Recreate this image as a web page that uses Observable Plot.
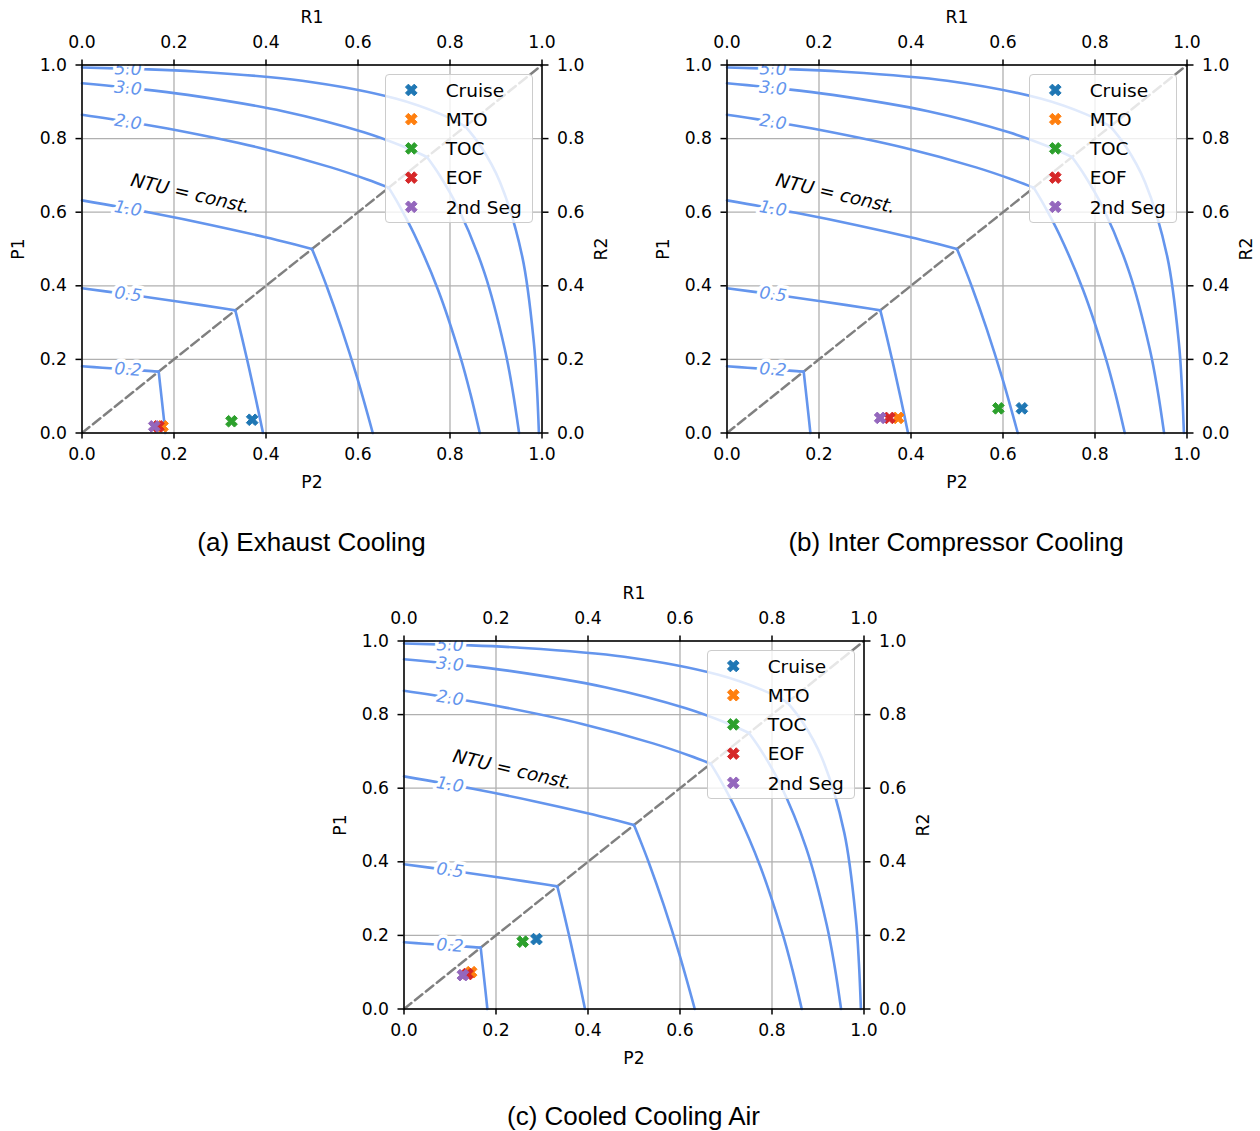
<!DOCTYPE html>
<html>
<head>
<meta charset="utf-8">
<script src="https://cdn.jsdelivr.net/npm/d3@7"></script>
<script src="https://cdn.jsdelivr.net/npm/@observablehq/plot@0.6"></script>
<style>
html, body { margin: 0; padding: 0; background: #ffffff; }
#root { position: relative; width: 1260px; height: 1131px; overflow: hidden; }
.panel { position: absolute; }
.legend { position: absolute; background: rgba(255,255,255,0.8); border: 1px solid #cccccc; border-radius: 4px; box-sizing: border-box; }
</style>
</head>
<body>
<div id="root"></div>
<script>
// ---------------- data ----------------
const seriesNames  = ["Cruise", "MTO", "TOC", "EOF", "2nd Seg"];
const seriesColors = ["#1f77b4", "#ff7f0e", "#2ca02c", "#d62728", "#9467bd"];
const panelCaptions = ["(a) Exhaust Cooling", "(b) Inter Compressor Cooling", "(c) Cooled Cooling Air"];

// operating points (P2, P1) per series, order = seriesNames
const exhaustP2 = [0.370, 0.175, 0.325, 0.166, 0.157];
const exhaustP1 = [0.036, 0.018, 0.032, 0.018, 0.018];
const interP2   = [0.641, 0.372, 0.590, 0.353, 0.333];
const interP1   = [0.067, 0.041, 0.067, 0.041, 0.041];
const cooledP2  = [0.288, 0.146, 0.258, 0.138, 0.128];
const cooledP1  = [0.190, 0.100, 0.183, 0.095, 0.092];

// NTU = const. lines, half from the P1 axis to the diagonal (other half is its mirror)
const ntuLabels = ["0.2", "0.5", "1.0", "2.0", "3.0", "5.0"];
const ntu02P2 = [0, 0.0444, 0.0869, 0.1276, 0.1513, 0.1667];
const ntu02P1 = [0.1813, 0.1775, 0.1738, 0.1702, 0.1681, 0.1667];
const ntu05P2 = [0, 0.0944, 0.1811, 0.2606, 0.3051, 0.3333];
const ntu05P1 = [0.3935, 0.3776, 0.3623, 0.3475, 0.3389, 0.3333];
const ntu10P2 = [0, 0.1496, 0.2824, 0.3989, 0.4613, 0.5000];
const ntu10P1 = [0.6321, 0.5983, 0.5647, 0.5319, 0.5126, 0.5000];
const ntu20P2 = [0, 0.1056, 0.2057, 0.3873, 0.5414, 0.6200, 0.6667];
const ntu20P1 = [0.8647, 0.8446, 0.8228, 0.7746, 0.7218, 0.6889, 0.6667];
const ntu30P2 = [0, 0.1170, 0.2297, 0.4372, 0.6128, 0.6999, 0.7500];
const ntu30P1 = [0.9502, 0.9360, 0.9188, 0.8744, 0.8171, 0.7777, 0.7500];
const ntu50P2 = [0, 0.1236, 0.2456, 0.4786, 0.6816, 0.7798, 0.8333];
const ntu50P1 = [0.9933, 0.9890, 0.9823, 0.9572, 0.9088, 0.8664, 0.8333];

// inline label anchor points on each line
const labelP2 = [0.100, 0.100, 0.100, 0.100, 0.100, 0.100];
const labelP1 = [0.1726, 0.3766, 0.6095, 0.8445, 0.9365, 0.9888];

// annotation
const noteText = "NTU = const.";
const noteP2 = 0.236;
const noteP1 = 0.650;

// diagonal
const diagP2 = [0, 1];
const diagP1 = [0, 1];

// axes
const tickValues = [0, 0.2, 0.4, 0.6, 0.8, 1.0];
const axisLabels = {bottom: "P2", top: "R1", left: "P1", right: "R2"};

// ---------------- layout ----------------
const W = 615, H = 500, ML = 81.5, MT = 64.5, PW = 460, PH = 368;
const panelPos = [[0, 0], [644.5, 0], [322, 575.5]];
const captionPos = [[311.5, 551], [956, 551], [633.5, 1125]];
const panelData = [[exhaustP2, exhaustP1], [interP2, interP1], [cooledP2, cooledP1]];

const curveP2 = [ntu02P2, ntu05P2, ntu10P2, ntu20P2, ntu30P2, ntu50P2];
const curveP1 = [ntu02P1, ntu05P1, ntu10P1, ntu20P1, ntu30P1, ntu50P1];

const curveRows = [];
curveP2.forEach((p2, i) => {
  const p1 = curveP1[i];
  p2.forEach((v, j) => curveRows.push({key: i + "a", P2: v, P1: p1[j]}));
  p2.forEach((v, j) => curveRows.push({key: i + "b", P2: p1[j], P1: v}));
});
const labelRows = ntuLabels.map((t, i) => {
  const p2 = curveP2[i], p1 = curveP1[i];
  const rot = Math.atan2((p1[0] - p1[1]) * PH, (p2[1] - p2[0]) * PW) * 180 / Math.PI;
  return {label: t, P2: labelP2[i], P1: labelP1[i], rot};
});
const diagRows = diagP2.map((v, i) => ({P2: v, P1: diagP1[i]}));
const noteRows = [{text: noteText, P2: noteP2, P1: noteP1}];

// filled "X" marker
function xPoints(a) {
  const w = a / 3, c = Math.SQRT1_2;
  return [[-w,-a],[w,-a],[w,-w],[a,-w],[a,w],[w,w],[w,a],[-w,a],[-w,w],[-a,w],[-a,-w],[-w,-w]]
    .map(([x, y]) => [(x - y) * c, (x + y) * c]);
}
const xSymbol = {
  draw(ctx, size) {
    const a = Math.sqrt(size / Math.PI);
    xPoints(a).forEach(([x, y], i) => i ? ctx.lineTo(x, y) : ctx.moveTo(x, y));
    ctx.closePath();
  }
};

const fmt = d3.format(".1f");
const FONT = "DejaVu Sans";
const FS = 17.2;

function makePanel(p2s, p1s) {
  const pts = seriesNames.map((s, i) => ({series: s, P2: p2s[i], P1: p1s[i]}));
  const axisCommon = {tickFormat: fmt, tickSize: 6, tickPadding: 9, label: null, fontSize: FS, strokeWidth: 1.5, stroke: "#000", fill: "#000"};
  const lab = {fontSize: FS, fill: "#000", textAnchor: "middle", lineAnchor: "middle"};
  return Plot.plot({
    width: W, height: H,
    marginLeft: ML, marginTop: MT, marginRight: W - ML - PW, marginBottom: H - MT - PH,
    x: {domain: [0, 1]},
    y: {domain: [0, 1]},
    color: {domain: seriesNames, range: seriesColors},
    style: {fontFamily: FONT, fontSize: FS + "px", background: "transparent", color: "#000", overflow: "visible"},
    marks: [
      Plot.gridX(tickValues, {stroke: "#b0b0b0", strokeOpacity: 1, strokeWidth: 1.3}),
      Plot.gridY(tickValues, {stroke: "#b0b0b0", strokeOpacity: 1, strokeWidth: 1.3}),
      Plot.line(diagRows, {x: "P2", y: "P1", stroke: "#808080", strokeWidth: 2.5, strokeDasharray: "9.5,4.5"}),
      Plot.line(curveRows, {x: "P2", y: "P1", z: "key", stroke: "#6495ED", strokeWidth: 2.6, curve: "catmull-rom"}),
      Plot.text(labelRows, {x: "P2", y: "P1", text: "label", rotate: "rot", fill: "white", stroke: "white", strokeWidth: 7, strokeLinejoin: "round", fontSize: FS, fontStyle: "italic", clip: true}),
      Plot.text(labelRows, {x: "P2", y: "P1", text: "label", rotate: "rot", fill: "#6495ED", fontSize: FS, fontStyle: "italic", clip: true}),
      Plot.text(noteRows, {x: "P2", y: "P1", text: "text", rotate: 13, fill: "#000", fontSize: 18.5, fontStyle: "italic"}),
      Plot.dot(pts, {x: "P2", y: "P1", fill: "series", stroke: "series", strokeWidth: 1, symbol: xSymbol, r: 6.2}),
      Plot.frame({stroke: "#000", strokeWidth: 1.5}),
      Plot.axisX(tickValues, {anchor: "bottom", ...axisCommon}),
      Plot.axisX(tickValues, {anchor: "top", ...axisCommon, tickPadding: 11.5}),
      Plot.axisY(tickValues, {anchor: "left", ...axisCommon}),
      Plot.axisY(tickValues, {anchor: "right", ...axisCommon}),
      Plot.text([axisLabels.bottom], {frameAnchor: "bottom", dy: 49, ...lab}),
      Plot.text([axisLabels.top], {frameAnchor: "top", dy: -47.5, ...lab}),
      Plot.text([axisLabels.left], {frameAnchor: "left", dx: -63.5, rotate: -90, ...lab}),
      Plot.text([axisLabels.right], {frameAnchor: "right", dx: 59, rotate: -90, ...lab})
    ]
  });
}

const root = document.getElementById("root");

// captions
const capSvg = d3.select(root).append("svg")
  .attr("width", 1260).attr("height", 1131)
  .style("position", "absolute").style("left", "0px").style("top", "0px");
panelCaptions.forEach((t, i) => {
  capSvg.append("text").attr("x", captionPos[i][0]).attr("y", captionPos[i][1])
    .attr("text-anchor", "middle").attr("font-family", "Liberation Sans, Arial, sans-serif")
    .attr("font-size", 26).attr("fill", "#000").text(t);
});

panelData.forEach(([p2s, p1s], i) => {
  const div = document.createElement("div");
  div.className = "panel";
  div.style.left = panelPos[i][0] + "px";
  div.style.top = panelPos[i][1] + "px";
  div.style.width = W + "px";
  div.style.height = H + "px";
  div.appendChild(makePanel(p2s, p1s));
  root.appendChild(div);

  // legend
  const LW = 148, LH = 149;
  const fx = panelPos[i][0] + ML, fy = panelPos[i][1] + MT;
  const leg = document.createElement("div");
  leg.className = "legend";
  leg.style.left = (fx + PW - 9 - LW) + "px";
  leg.style.top = (fy + 9.5) + "px";
  leg.style.width = LW + "px";
  leg.style.height = LH + "px";
  root.appendChild(leg);
  const s = d3.select(leg).append("svg").attr("width", LW - 2).attr("height", LH - 2)
    .style("position", "absolute").style("left", "0px").style("top", "0px");
  seriesNames.forEach((name, k) => {
    const cy = 15 + k * 29.2;
    const pts = xPoints(6.2).map(([x, y]) => [x + 25.3, y + cy]);
    s.append("path").attr("d", "M" + pts.map(p => p.join(",")).join("L") + "Z")
      .attr("fill", seriesColors[k]).attr("stroke", seriesColors[k]).attr("stroke-width", 1);
    s.append("text").attr("x", 59.7).attr("y", cy + 6.7)
      .attr("font-family", FONT).attr("font-size", 18.5).attr("fill", "#000").text(name);
  });
});
</script>
</body>
</html>
